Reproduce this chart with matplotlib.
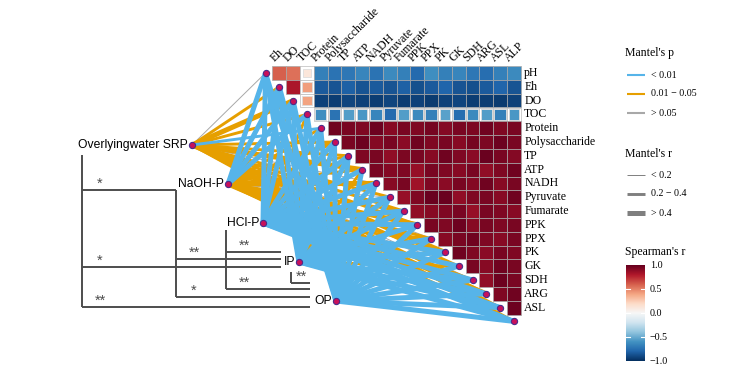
import matplotlib
matplotlib.use("Agg")
import matplotlib.pyplot as plt
from matplotlib.patches import Rectangle
from matplotlib.colors import Normalize
import numpy as np

# ---- data ----
variables = ["pH", "Eh", "DO", "TOC", "Protein", "Polysaccharide", "TP", "ATP", "NADH",
             "Pyruvate", "Fumarate", "PPK", "PPX", "PK", "GK", "SDH", "ARG", "ASL", "ALP"]

# Spearman's r, upper triangle, one list per row (columns to the right of the diagonal)
r_pH = [0.6, 0.55, 0.12, -0.68, -0.74, -0.72, -0.66, -0.74, -0.64, -0.68, -0.78, -0.62, -0.68, -0.66, -0.72, -0.76, -0.68, -0.64]
r_Eh = [0.82, 0.42, -0.84, -0.86, -0.82, -0.86, -0.84, -0.86, -0.82, -0.88, -0.84, -0.8, -0.86, -0.88, -0.84, -0.8, -0.86]
r_DO = [0.4, -0.93, -0.95, -0.92, -0.93, -0.95, -0.92, -0.95, -0.93, -0.96, -0.93, -0.92, -0.95, -0.95, -0.96, -0.93]
r_TOC = [-0.62, -0.74, -0.56, -0.58, -0.66, -0.78, -0.56, -0.64, -0.68, -0.54, -0.76, -0.64, -0.56, -0.68, -0.58]
r_Protein = [0.97, 0.95, 0.93, 0.98, 0.91, 0.95, 0.93, 0.96, 0.92, 0.95, 0.94, 0.97, 0.93, 0.95]
r_Poly = [0.95, 0.98, 0.92, 0.95, 0.9, 0.97, 0.93, 0.95, 0.91, 0.96, 0.94, 0.98, 0.95]
r_TP = [0.93, 0.95, 0.89, 0.94, 0.95, 0.91, 0.97, 0.93, 0.9, 0.99, 0.95, 0.92]
r_ATP = [0.95, 0.92, 0.93, 0.87, 0.95, 0.93, 0.91, 0.95, 0.89, 0.93, 0.97]
r_NADH = [0.91, 0.95, 0.85, 0.93, 0.9, 0.95, 0.92, 0.97, 0.91, 0.95]
r_Pyruvate = [0.87, 0.93, 0.99, 0.99, 0.89, 0.93, 0.95, 0.91, 0.97]
r_Fumarate = [0.89, 0.91, 0.93, 0.95, 0.87, 0.95, 0.93, 0.91]
r_PPK = [0.95, 0.93, 0.98, 0.91, 0.95, 0.93, 0.95]
r_PPX = [0.91, 0.95, 0.97, 0.93, 0.91, 0.95]
r_PK = [0.97, 0.93, 0.9, 0.95, 0.93]
r_GK = [0.95, 0.91, 0.97, 0.95]
r_SDH = [0.89, 0.98, 0.95]
r_ARG = [0.93, 0.97]
r_ASL = [0.98]
spearman_rows = [r_pH, r_Eh, r_DO, r_TOC, r_Protein, r_Poly, r_TP, r_ATP, r_NADH, r_Pyruvate,
                 r_Fumarate, r_PPK, r_PPX, r_PK, r_GK, r_SDH, r_ARG, r_ASL]

nodes = ["Overlyingwater SRP", "NaOH-P", "HCl-P", "IP", "OP"]

# Mantel's p class: 0 = <0.01, 1 = 0.01-0.05, 2 = >0.05
# Mantel's r class: 0 = <0.2, 1 = 0.2-0.4, 2 = >0.4
srp_p = [2, 1, 1, 1, 0, 1, 1, 1, 2, 1, 1, 1, 2, 1, 1, 2, 1, 1, 1]
srp_r = [0, 1, 2, 1, 1, 1, 1, 2, 0, 1, 1, 1, 0, 2, 1, 0, 1, 1, 1]
naoh_p = [0, 0, 0, 0, 1, 1, 1, 1, 1, 2, 1, 1, 1, 1, 2, 1, 1, 1, 1]
naoh_r = [2, 2, 2, 2, 1, 2, 1, 1, 2, 0, 1, 2, 1, 1, 0, 1, 2, 1, 1]
hcl_p = [0, 0, 0, 1, 0, 0, 0, 0, 0, 0, 0, 0, 1, 0, 0, 0, 0, 0, 0]
hcl_r = [2, 2, 2, 1, 2, 2, 2, 2, 2, 2, 2, 2, 1, 2, 2, 2, 2, 2, 2]
ip_p = [0, 0, 0, 0, 0, 0, 0, 1, 0, 0, 0, 0, 0, 0, 1, 0, 0, 0, 0]
ip_r = [2, 2, 2, 2, 2, 2, 2, 1, 2, 2, 2, 2, 2, 2, 1, 2, 2, 2, 2]
op_p = [0, 0, 0, 0, 0, 0, 0, 0, 0, 0, 0, 0, 0, 0, 0, 0, 0, 0, 0]
op_r = [2, 2, 2, 2, 2, 2, 2, 2, 2, 2, 2, 2, 2, 2, 2, 2, 2, 2, 2]
mantel_p = [srp_p, naoh_p, hcl_p, ip_p, op_p]
mantel_r = [srp_r, naoh_r, hcl_r, ip_r, op_r]

# pairwise significance between the P fractions
pair_from = ["Overlyingwater SRP", "Overlyingwater SRP", "Overlyingwater SRP", "NaOH-P", "NaOH-P", "HCl-P", "HCl-P", "IP"]
pair_to = ["NaOH-P", "IP", "OP", "IP", "OP", "IP", "OP", "OP"]
pair_stars = ["*", "*", "**", "**", "*", "**", "**", "**"]

p_labels = ["< 0.01", "0.01 \u2212 0.05", "> 0.05"]
r_labels = ["< 0.2", "0.2 \u2212 0.4", "> 0.4"]

# ---- layout (pixels) ----
fig = plt.figure(figsize=(7.44, 3.71), dpi=100)
ax = fig.add_axes([0, 0, 1, 1])
ax.set_xlim(0, 744)
ax.set_ylim(371, 0)
ax.axis("off")

X0, Y0, CW = 265.5, 73.0, 13.8
serif = "Liberation Serif"
sans = "Liberation Sans"
p_colors = ["#56B4E9", "#E69F00", "#A8A8A8"]
r_widths = [0.7, 2.1, 3.6]
cmap = plt.get_cmap("RdBu_r")
norm = Normalize(-1, 1)

node_xy = {"Overlyingwater SRP": (192, 145), "NaOH-P": (228, 184), "HCl-P": (263, 223),
           "IP": (299, 262), "OP": (336, 301)}
bracket_x = {"Overlyingwater SRP": 82, "NaOH-P": 176, "HCl-P": 226, "IP": 291}
bracket_top = {"Overlyingwater SRP": 155, "NaOH-P": 190, "HCl-P": 230, "IP": 272}
bracket_end = {"NaOH-P": 176, "IP": 281, "OP": 310}
bracket_y = [190, 267, 307, 259, 297, 252, 289, 283]

dot_x = [X0 + k * CW for k in range(len(variables))]
dot_y = [Y0 + k * CW for k in range(len(variables))]

# mantel links, grey first then orange then blue on top
links = []
for n, name in enumerate(nodes):
    for k in range(len(variables)):
        links.append((mantel_p[n][k], mantel_r[n][k], name, k))
links.sort(key=lambda t: -t[0])
for pc, rc, name, k in links:
    nx, ny = node_xy[name]
    ax.plot([nx, dot_x[k]], [ny, dot_y[k]], color=p_colors[pc], lw=r_widths[rc],
            solid_capstyle="butt", zorder=1)

# heatmap
for i, row in enumerate(spearman_rows):
    for m, v in enumerate(row):
        j = i + 1 + m
        cx, cy = X0 + j * CW, Y0 + i * CW
        if i == 3 or j == 3:
            ax.add_patch(Rectangle((cx - CW / 2, cy - CW / 2), CW, CW, fc="white",
                                   ec="#BBBBBB", lw=0.5, zorder=2))
            s = CW * (0.55 + 0.4 * abs(v))
            ax.add_patch(Rectangle((cx - s / 2, cy - s / 2), s, s, fc=cmap(norm(v)),
                                   ec="#DDDDDD", lw=0.6, zorder=3))
        else:
            ax.add_patch(Rectangle((cx - CW / 2, cy - CW / 2), CW, CW, fc=cmap(norm(v)),
                                   ec="#A8A8A8", lw=0.5, zorder=2))

for i in range(len(spearman_rows)):
    ax.text(X0 + 18 * CW + CW / 2 + 3.5, Y0 + i * CW, variables[i], family=serif,
            fontsize=8.5, ha="left", va="center")
for j in range(1, len(variables)):
    ax.text(X0 + j * CW - 3, Y0 - CW / 2 - 2, variables[j], family=serif, fontsize=8.5,
            rotation=45, rotation_mode="anchor", ha="left", va="bottom")

ax.scatter(dot_x, dot_y, s=20, c="#C8105A", edgecolors="#4B2C8A", linewidths=0.8, zorder=5)

# P-fraction nodes
for name in nodes:
    nx, ny = node_xy[name]
    ax.text(nx - 4, ny, name, family=sans, fontsize=8.7, ha="right", va="center", zorder=4)
    ax.scatter([nx], [ny], s=20, c="#C8105A", edgecolors="#4B2C8A", linewidths=0.8, zorder=5)

# significance brackets
bcol = "#4D4D4D"
lowest = {}
for a, b, y in zip(pair_from, pair_to, bracket_y):
    lowest[a] = max(lowest.get(a, 0), y)
for a in lowest:
    ax.plot([bracket_x[a], bracket_x[a]], [bracket_top[a], lowest[a]], color=bcol, lw=1.4,
            solid_capstyle="butt", zorder=4)
for a, b, st, y in zip(pair_from, pair_to, pair_stars, bracket_y):
    x1, x2 = bracket_x[a], bracket_end[b]
    ax.plot([x1, x2], [y, y], color=bcol, lw=1.4, solid_capstyle="butt", zorder=4)
    sx = x1 + min(18, (x2 - x1) / 2 + 1)
    ax.text(sx, y - 6, st, family=sans, fontsize=10.5, color=bcol, ha="center", va="center", zorder=4)

# legends
ax.text(625, 53, "Mantel's p", family=serif, fontsize=8.5, ha="left", va="center")
for q, (lab, col) in enumerate(zip(p_labels, p_colors)):
    yy = 75 + q * 19
    ax.plot([627, 645], [yy, yy], color=col, lw=1.5, solid_capstyle="butt")
    ax.text(651, yy, lab, family=serif, fontsize=7.2, ha="left", va="center")

ax.text(625, 154, "Mantel's r", family=serif, fontsize=8.5, ha="left", va="center")
for q, (lab, w) in enumerate(zip(r_labels, r_widths)):
    yy = 175 + q * 19
    ax.plot([627, 645], [yy, yy], color="#7F7F7F", lw=w, solid_capstyle="butt")
    ax.text(651, yy, lab, family=serif, fontsize=7.2, ha="left", va="center")

ax.text(625, 252, "Spearman's r", family=serif, fontsize=8.5, ha="left", va="center")
grad = np.linspace(1, -1, 200).reshape(-1, 1)
ax.imshow(grad, cmap=cmap, norm=norm, extent=[626, 645, 361, 265], aspect="auto", zorder=2)
clip = Rectangle((600, 0), 144, 363, transform=ax.transData)
for v in [1.0, 0.5, 0.0, -0.5, -1.0]:
    yy = 313 - v * 48
    if abs(v) < 1:
        ax.plot([626, 630], [yy, yy], color="white", lw=0.8, zorder=3)
        ax.plot([641, 645], [yy, yy], color="white", lw=0.8, zorder=3)
    t = ax.text(650, yy, f"{v:.1f}".replace("-", "\u2212"), family=serif, fontsize=7.2,
                ha="left", va="center")
    t.set_clip_path(clip)

fig.savefig("out.png", dpi=100)
